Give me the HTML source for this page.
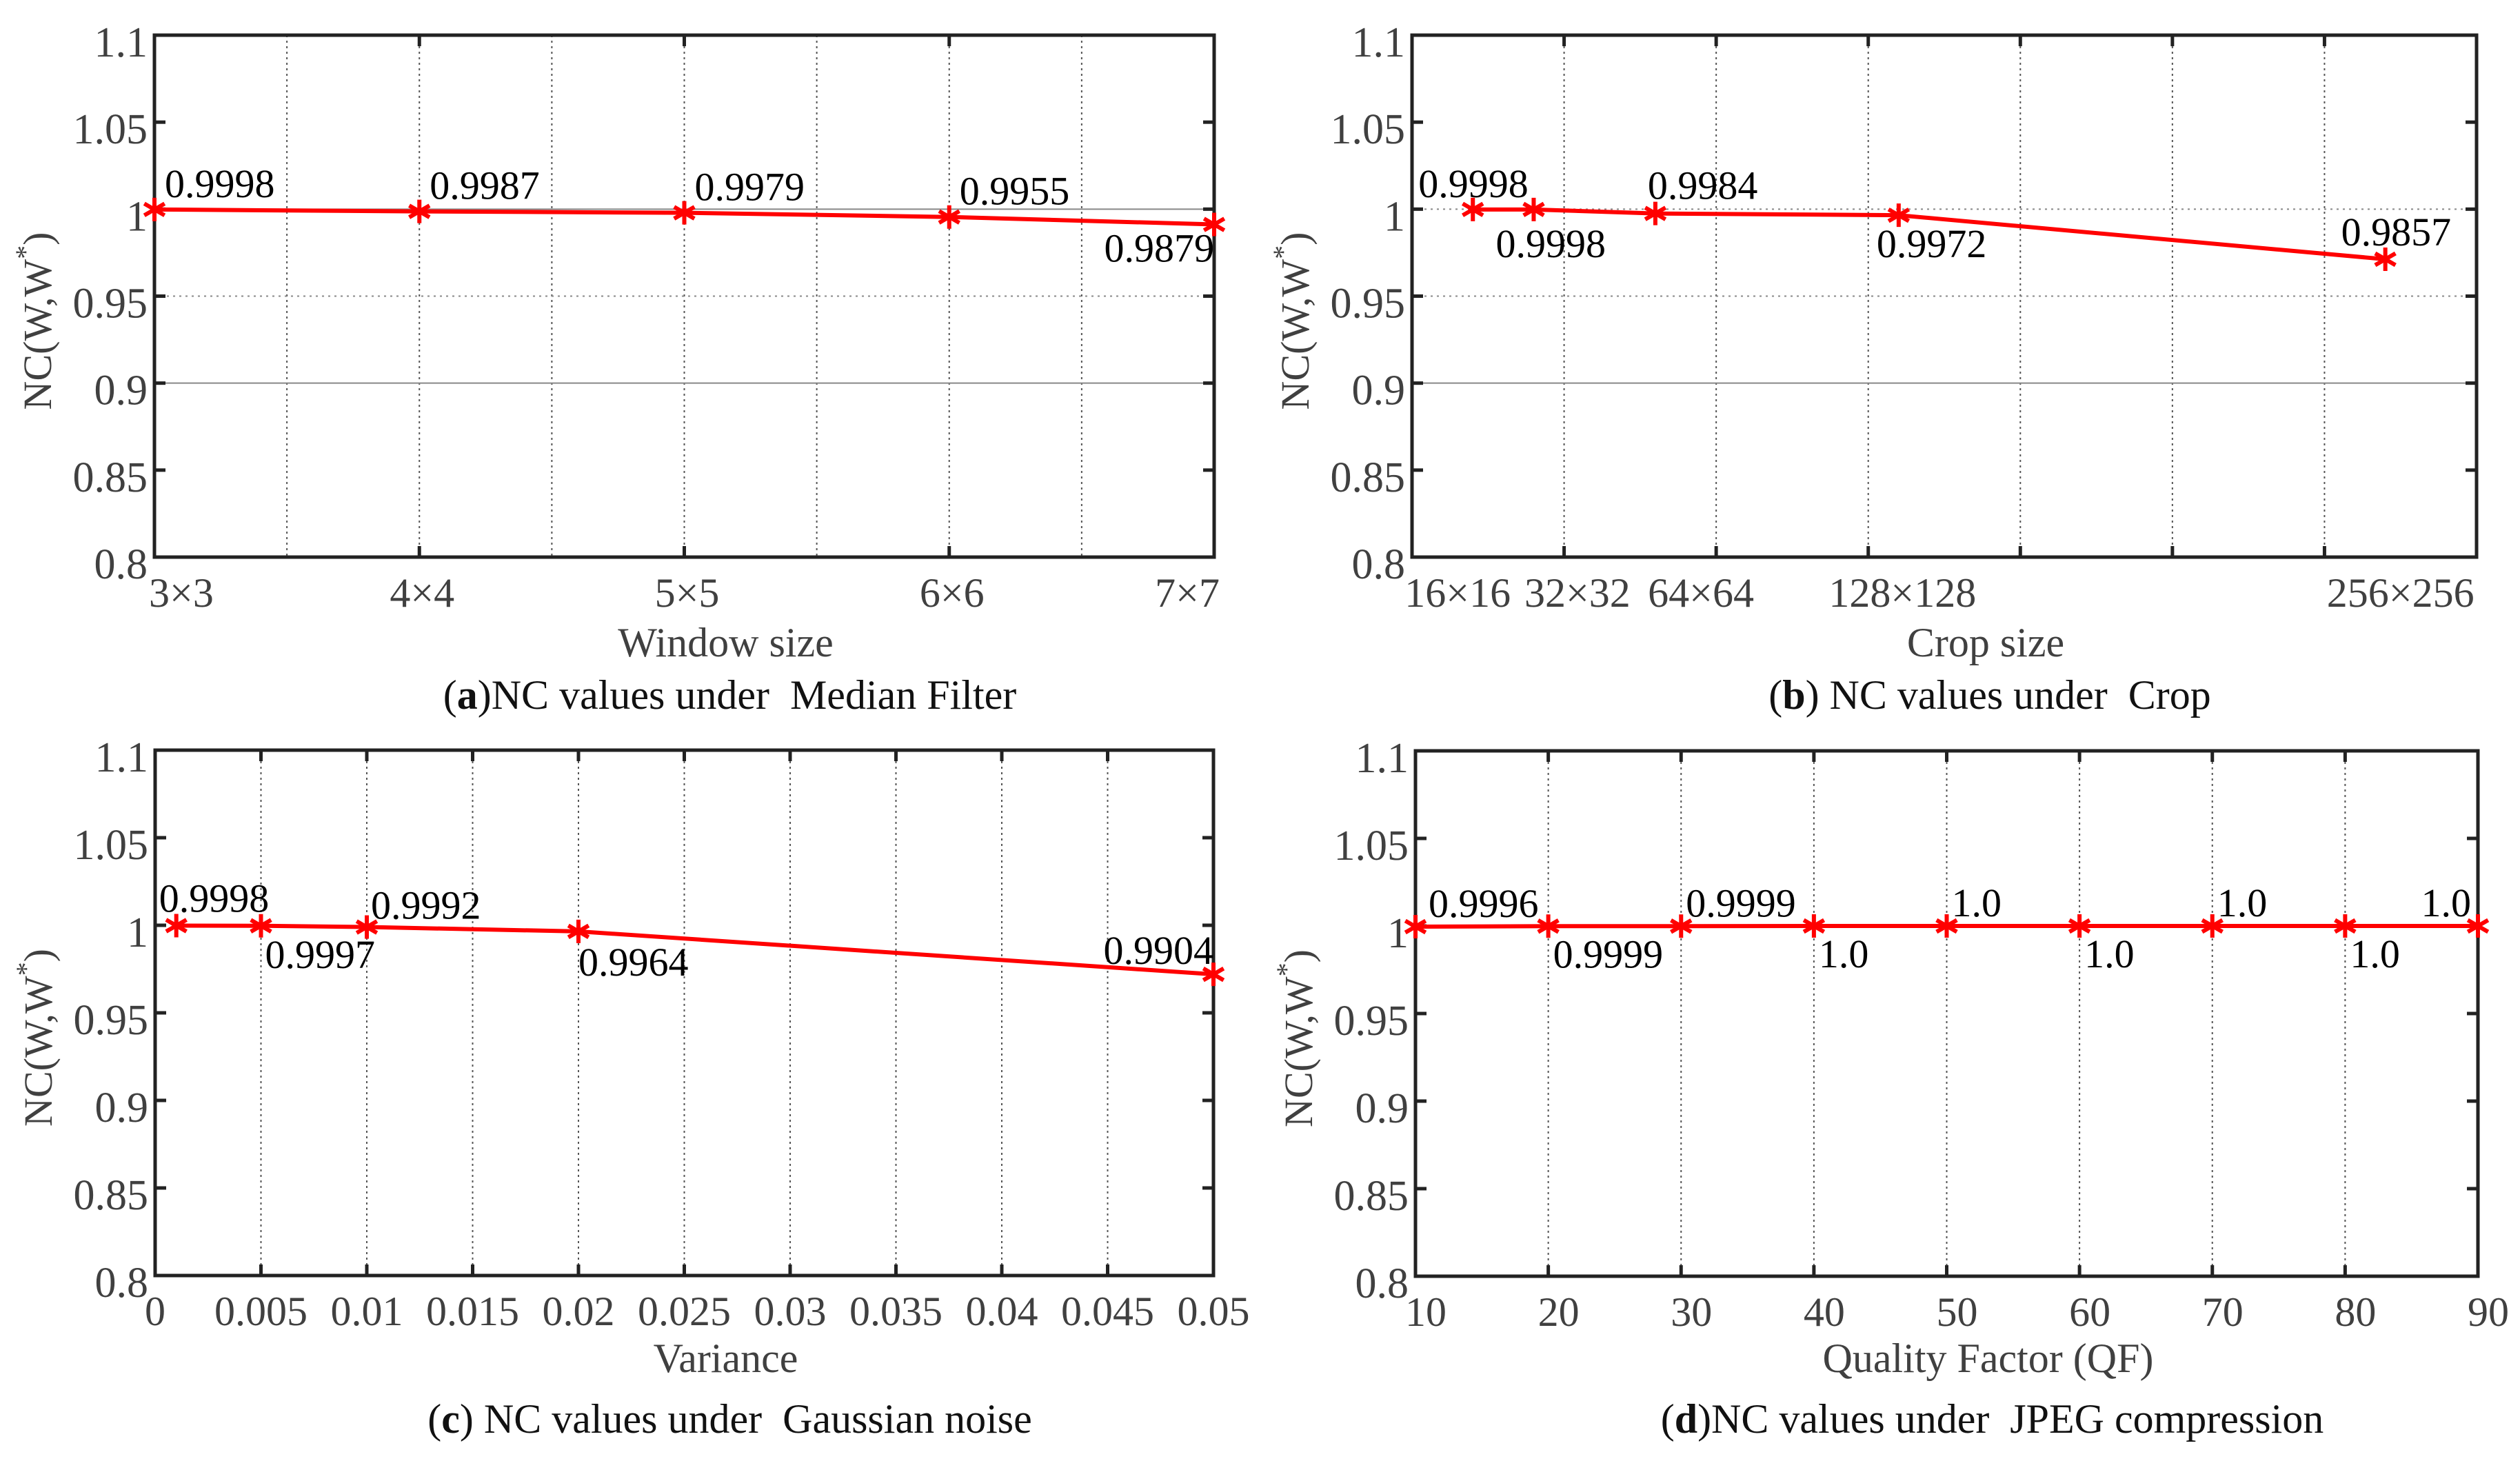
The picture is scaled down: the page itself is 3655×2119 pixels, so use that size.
<!DOCTYPE html>
<html><head><meta charset="utf-8">
<style>
html,body{margin:0;padding:0;background:#fff}
svg{display:block}
text{font-family:"Liberation Serif",serif}
</style></head>
<body>
<svg id="fig" xmlns="http://www.w3.org/2000/svg" width="3655" height="2119" viewBox="0 0 3655 2119" font-family="Liberation Serif, serif">
<rect width="3655" height="2119" fill="#fff"/>
</svg>
<script>
// ---- Data ----
// (a) Median filter
const aCategories = ["3×3","4×4","5×5","6×6","7×7"];
const aValues = [0.9998, 0.9987, 0.9979, 0.9955, 0.9912];
const aLabels = ["0.9998","0.9987","0.9979","0.9955","0.9879"];
// (b) Crop
const bSizes = [16, 32, 64, 128, 256];
const bTickLabels = ["16×16","32×32","64×64","128×128","256×256"];
const bTickLabelAt = [12, 43.5, 76, 129, 260];
const bValues = [0.9998, 0.9998, 0.9975, 0.9965, 0.9712];
const bLabels = ["0.9998","0.9998","0.9984","0.9972","0.9857"];
// (c) Gaussian noise
const cVariance = [0.001, 0.005, 0.01, 0.02, 0.05];
const cValues = [0.9998, 0.9997, 0.9990, 0.9965, 0.9720];
const cLabels = ["0.9998","0.9997","0.9992","0.9964","0.9904"];
const cTicks = [0,0.005,0.01,0.015,0.02,0.025,0.03,0.035,0.04,0.045,0.05];
const cTickLabels = ["0","0.005","0.01","0.015","0.02","0.025","0.03","0.035","0.04","0.045","0.05"];
// (d) JPEG
const dQF = [10,20,30,40,50,60,70,80,90];
const dValues = [0.9996,0.9999,0.9999,1.0,1.0,1.0,1.0,1.0,1.0];
const dLabels = ["0.9996","0.9999","0.9999","1.0","1.0","1.0","1.0","1.0","1.0"];
const yTicks = [0.8,0.85,0.9,0.95,1,1.05,1.1];
const yTickLabels = ["0.8","0.85","0.9","0.95","1","1.05","1.1"];

// ---- Label placements (style) ----
const aPlace = [[15,-18,"start"],[15,-18,"start"],[15,-18,"start"],[15,-18,"start"],[0,54,"end"]];
const bPlace = [[-79,-18,"start"],[-55,69,"start"],[-11,-21,"start"],[-32,61,"start"],[-64,-20,"start"]];
const cPlace = [[-25,-20,"start"],[6,61,"start"],[6,-12,"start"],[0,64,"start"],[0,-15,"end"]];
const dPlace = [[19,-14,"start"],[7,60,"start"],[7,-14,"start"],[7,60,"start"],[7,-14,"start"],[7,60,"start"],[7,-14,"start"],[7,60,"start"],[-10,-14,"end"]];

const NS = "http://www.w3.org/2000/svg";
const svg = document.getElementById("fig");
function mk(tag, attrs, parent){
  const e = document.createElementNS(NS, tag);
  for (const k in attrs) e.setAttribute(k, attrs[k]);
  (parent||svg).appendChild(e);
  return e;
}
function txt(parent, x, y, s, size, fill, anchor){
  const t = mk("text", {x:x, y:y, "font-size":size, fill:fill, "text-anchor":anchor||"middle", "font-family":"Liberation Serif, serif"}, parent);
  t.textContent = s;
  return t;
}

function panel(cfg){
  const g = mk("g", {});
  
  
  const L=cfg.L, R=cfg.R, T=cfg.T, B=cfg.B;
  const xs = v => L + (v - cfg.xmin)/(cfg.xmax - cfg.xmin)*(R-L);
  const ys = v => B - (v - 0.8)/(1.1-0.8)*(B-T);

  cfg.vgrid.forEach(v=>{
    const l = mk("line",{x1:xs(v),x2:xs(v),y1:T,y2:B,stroke:"#555","stroke-width":2,"stroke-dasharray":"3,5"},g);
    
    
  });
  cfg.hgrid.forEach(h=>{
    const l = mk("line",{x1:L,x2:R,y1:ys(h[0]),y2:ys(h[0]),stroke:"#888","stroke-width":2,"stroke-dasharray":h[1]?"3,6":"none"},g);
    
    
  });
  yTicks.forEach((v,i)=>{
    mk("line",{x1:L,x2:L+16,y1:ys(v),y2:ys(v),stroke:"#222","stroke-width":5},g);
    mk("line",{x1:R,x2:R-16,y1:ys(v),y2:ys(v),stroke:"#222","stroke-width":5},g);
    const t = txt(g, L-10, ys(v)+31, yTickLabels[i], 62, "#404040", "end");
    
    
  });
  cfg.xticks.forEach(v=>{
    mk("line",{x1:xs(v),x2:xs(v),y1:B,y2:B-16,stroke:"#222","stroke-width":5},g);
    mk("line",{x1:xs(v),x2:xs(v),y1:T,y2:T+16,stroke:"#222","stroke-width":5},g);
  });
  cfg.xlabels.forEach((s,i)=>{
    let anchor="middle", x=xs(cfg.xlabelPos[i])+cfg.xlabelShift;
    if (cfg.clampEnds && i===0){anchor="start"; x=L-8;}
    if (cfg.clampEnds && i===cfg.xlabels.length-1){anchor="end"; x=R+8;}
    const t = txt(g, x, B+72, s, 60, "#404040", anchor);
    
    
  });
  const fr = mk("rect",{x:L,y:T,width:R-L,height:B-T,fill:"none",stroke:"#222","stroke-width":5},g);
  
  
  const pts = cfg.xv.map((v,i)=>xs(v)+","+ys(cfg.yv[i])).join(" ");
  const pl = mk("polyline",{points:pts,fill:"none",stroke:"#ff0000","stroke-width":6},g);
  
  
  cfg.xv.forEach((v,i)=>{
    const cx=xs(v), cy=ys(cfg.yv[i]), r=17;
    const m = mk("g",{stroke:"#ff0000","stroke-width":6},g);
    
    
    [0,60,120].forEach(a=>{
      const rad=a*Math.PI/180+Math.PI/2;
      mk("line",{x1:cx-r*Math.cos(rad),y1:cy-r*Math.sin(rad),x2:cx+r*Math.cos(rad),y2:cy+r*Math.sin(rad)},m);
    });
    const p = cfg.place[i];
    const t = txt(g, cx+p[0], cy+p[1], cfg.labels[i], 58, "#000", p[2]);
    
    
  });
  const yt = mk("text",{x:0,y:0,"font-size":58,fill:"#404040","text-anchor":"middle","font-family":"Liberation Serif, serif",transform:"translate("+(L-150)+","+((T+B)/2+36)+") rotate(-90)"},g);
  
  
  yt.appendChild(document.createTextNode("NC(W,W"));
  const sup = mk("tspan",{dy:-24,"font-size":40},yt); sup.textContent="*";
  const cl = mk("tspan",{dy:24},yt); cl.textContent=")";
  const xt = txt(g, (L+R)/2+60, cfg.xtitleY, cfg.xtitle, 60, "#404040", "middle");
  
  
  const cap = mk("text",{x:(L+R)/2+66,y:cfg.capY,"font-size":60,fill:"#111","text-anchor":"middle","font-family":"Liberation Serif, serif"},g);
  
  
  cap.appendChild(document.createTextNode("("));
  const b = mk("tspan",{"font-weight":"bold"},cap); b.textContent=cfg.letter;
  const rest = mk("tspan",{},cap); rest.textContent=")"+cfg.caption;
}

const aIdx = aCategories.map((c,i)=>i);
panel({name:"panel-a-median-filter",L:224,R:1761,T:51,B:808,xmin:0,xmax:4,
  vgrid:[0.5,1,1.5,2,2.5,3,3.5],hgrid:[[1,false],[0.95,true],[0.9,false]],
  xticks:aIdx,xlabels:aCategories,xlabelPos:aIdx,xlabelShift:4,clampEnds:true,
  xv:aIdx,yv:aValues,labels:aLabels,place:aPlace,
  xtitle:"Window size",xtitleY:952,capY:1028,letter:"a",caption:"NC values under\u00a0 Median Filter"});

const bGrid=[40,80,120,160,200,240];
panel({name:"panel-b-crop",L:2048,R:3592,T:51,B:808,xmin:0,xmax:280,
  vgrid:bGrid,hgrid:[[1,true],[0.95,true],[0.9,false]],
  xticks:bGrid,xlabels:bTickLabels,xlabelPos:bTickLabelAt,xlabelShift:0,clampEnds:false,
  xv:bSizes,yv:bValues,labels:bLabels,place:bPlace,
  xtitle:"Crop size",xtitleY:952,capY:1028,letter:"b",caption:" NC values under\u00a0 Crop"});

panel({name:"panel-c-gaussian-noise",L:225,R:1760,T:1088,B:1850,xmin:0,xmax:0.05,
  vgrid:cTicks.slice(1,-1),hgrid:[],
  xticks:cTicks,xlabels:cTickLabels,xlabelPos:cTicks,xlabelShift:0,clampEnds:false,
  xv:cVariance,yv:cValues,labels:cLabels,place:cPlace,
  xtitle:"Variance",xtitleY:1990,capY:2078,letter:"c",caption:" NC values under\u00a0 Gaussian noise"});

panel({name:"panel-d-jpeg-compression",L:2053,R:3594,T:1089,B:1851,xmin:10,xmax:90,
  vgrid:dQF.slice(1,-1),hgrid:[],
  xticks:dQF,xlabels:dQF.map(String),xlabelPos:dQF,xlabelShift:15,clampEnds:false,
  xv:dQF,yv:dValues,labels:dLabels,place:dPlace,
  xtitle:"Quality Factor (QF)",xtitleY:1990,capY:2078,letter:"d",caption:"NC values under\u00a0 JPEG compression"});
</script>
</body></html>
